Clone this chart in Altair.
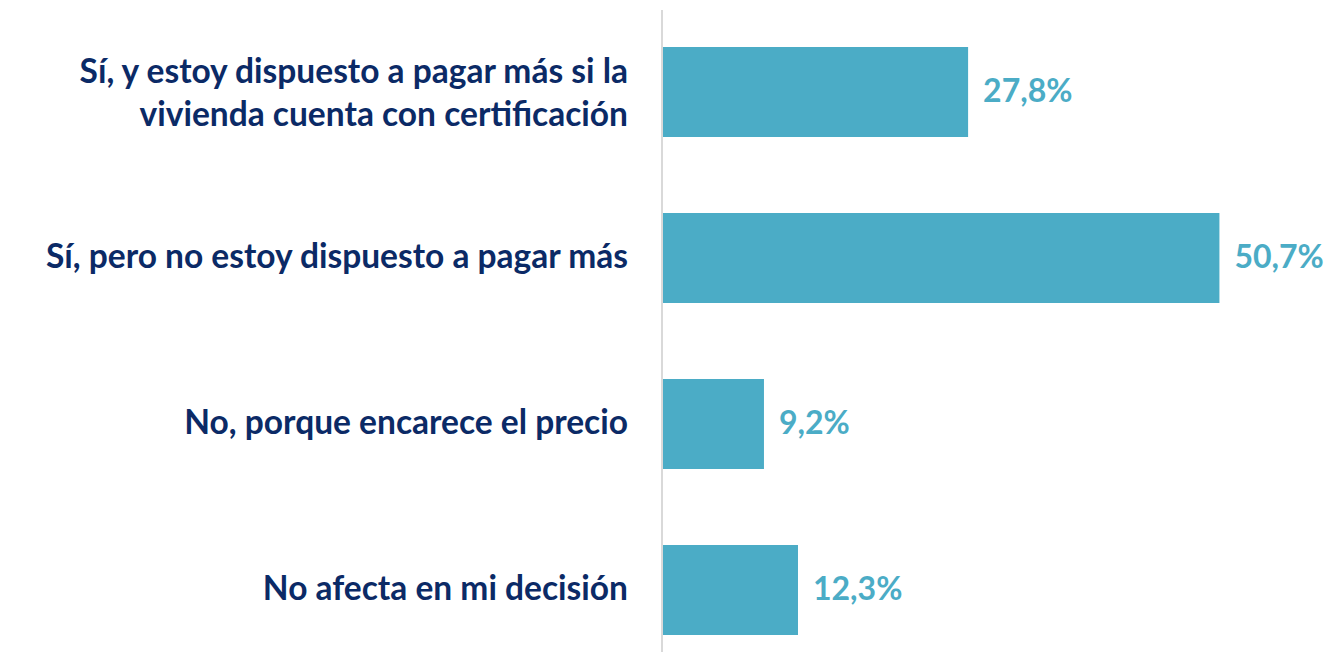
import altair as alt
import pandas as pd

categories = [
    "Sí, y estoy dispuesto a pagar más si la\nvivienda cuenta con certificación",
    "Sí, pero no estoy dispuesto a pagar más",
    "No, porque encarece el precio",
    "No afecta en mi decisión",
]
values = [27.8, 50.7, 9.2, 12.3]
value_labels = [f"{v:.1f}".replace(".", ",") + "%" for v in values]

df = pd.DataFrame({
    "cat": categories,
    "value": values,
    "label": value_labels,
    "nlines": [c.count("\n") + 1 for c in categories],
})

FONT = "Lato"
NAVY = "#0B2A66"
TEAL = "#4BACC6"

yscale = alt.Scale(paddingInner=0.458, paddingOuter=0.157, align=0.71)
y = alt.Y("cat:N", sort=categories, axis=None, scale=yscale)
x = alt.X("value:Q", axis=None, scale=alt.Scale(domain=[0, 59.5], nice=False))

base = alt.Chart(df)

bars = base.mark_bar(color=TEAL).encode(x=x, y=y)

values_text = base.mark_text(
    align="left", baseline="middle", dx=15, font=FONT, fontSize=32,
    fontWeight="bold", color=TEAL
).encode(x=x, y=y, text="label:N")

cat_style = dict(
    align="right", baseline="middle", font=FONT, fontSize=33.5,
    fontWeight="bold", color=NAVY, lineBreak="\n", lineHeight=43
)

cat_text_single = base.transform_filter("datum.nlines == 1").mark_text(
    **cat_style
).encode(x=alt.value(-35), y=y, text="cat:N")

cat_text_multi = base.transform_filter("datum.nlines > 1").mark_text(
    dy=-19, **cat_style
).encode(x=alt.value(-35), y=y, text="cat:N")

axis_line = base.mark_rule(color="#D9D9D9", strokeWidth=2).encode(
    x=alt.value(-1), y=alt.value(0), y2=alt.value(642)
)

chart = alt.layer(axis_line, bars, values_text, cat_text_single, cat_text_multi).properties(
    width=653, height=640,
    autosize=alt.AutoSizeParams(type="none"),
    padding={"left": 655, "top": 2, "right": 9, "bottom": 2},
).configure_view(stroke=None)

chart.save("out.html", embed_options={"renderer": "svg", "actions": False})
